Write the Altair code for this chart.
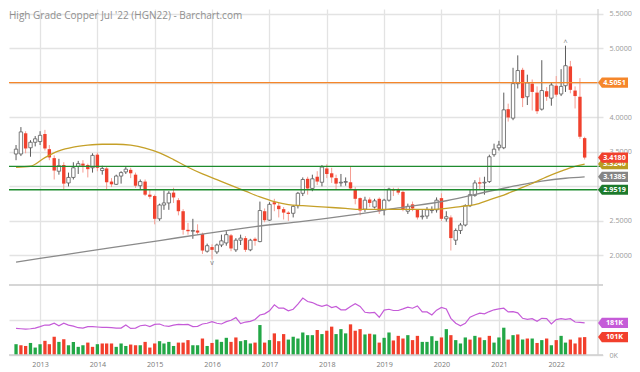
import altair as alt
import pandas as pd

title_text = "High Grade Copper Jul '22 (HGN22) - Barchart.com"

months = pd.date_range("2012-08-01", periods=120, freq="MS")

opens = [3.47, 3.47, 3.77, 3.56, 3.64, 3.65, 3.76, 3.54, 3.41, 3.22,
         3.31, 3.05, 3.13, 3.29, 3.33, 3.31, 3.27, 3.46, 3.23, 3.26,
         3.07, 3.03, 3.15, 3.21, 3.24, 3.17, 3.01, 3.07, 2.88, 2.86,
         2.53, 2.73, 2.76, 2.91, 2.80, 2.64, 2.37, 2.35, 2.36, 2.31,
         2.06, 2.12, 2.05, 2.15, 2.18, 2.29, 2.08, 2.22, 2.25, 2.08,
         2.24, 2.20, 2.64, 2.51, 2.77, 2.72, 2.67, 2.62, 2.61, 2.72,
         2.90, 3.11, 2.97, 3.14, 3.06, 3.26, 3.19, 3.12, 3.05, 3.06,
         3.06, 2.96, 2.83, 2.67, 2.81, 2.70, 2.82, 2.66, 2.80, 2.96,
         2.95, 2.92, 2.64, 2.74, 2.66, 2.56, 2.57, 2.65, 2.66, 2.83,
         2.53, 2.55, 2.22, 2.36, 2.44, 2.72, 2.87, 3.06, 3.05, 3.07,
         3.46, 3.56, 3.56, 4.12, 3.99, 4.49, 4.69, 4.30, 4.49, 4.36,
         4.12, 4.38, 4.28, 4.46, 4.34, 4.46, 4.74, 4.39, 4.30, 3.70]
highs = [3.60, 3.86, 3.80, 3.67, 3.73, 3.80, 3.82, 3.60, 3.45, 3.40,
         3.35, 3.20, 3.35, 3.37, 3.38, 3.33, 3.48, 3.49, 3.30, 3.28,
         3.12, 3.17, 3.22, 3.28, 3.27, 3.20, 3.10, 3.10, 2.95, 2.88,
         2.75, 2.94, 2.93, 2.98, 2.83, 2.67, 2.47, 2.53, 2.45, 2.33,
         2.17, 2.16, 2.17, 2.30, 2.35, 2.31, 2.25, 2.30, 2.28, 2.24,
         2.26, 2.78, 2.68, 2.77, 2.82, 2.76, 2.70, 2.64, 2.73, 2.92,
         3.13, 3.14, 3.17, 3.22, 3.31, 3.32, 3.27, 3.17, 3.18, 3.13,
         3.29, 2.99, 2.84, 2.85, 2.84, 2.82, 2.84, 2.82, 2.98, 2.98,
         2.98, 2.94, 2.75, 2.78, 2.67, 2.67, 2.70, 2.71, 2.84, 2.90,
         2.64, 2.58, 2.39, 2.47, 2.74, 2.95, 3.09, 3.13, 3.14, 3.46,
         3.62, 3.66, 4.36, 4.20, 4.72, 4.90, 4.72, 4.62, 4.55, 4.45,
         4.83, 4.44, 4.50, 4.60, 4.70, 5.04, 4.82, 4.45, 4.57, 3.72]
lows = [3.38, 3.44, 3.48, 3.43, 3.58, 3.60, 3.52, 3.38, 3.10, 3.17,
        2.96, 3.00, 3.10, 3.18, 3.20, 3.13, 3.20, 3.22, 3.17, 2.95,
        2.99, 3.02, 3.04, 3.18, 3.12, 2.98, 2.96, 2.86, 2.82, 2.45,
        2.50, 2.66, 2.66, 2.76, 2.58, 2.30, 2.30, 2.24, 2.30, 2.02,
        2.04, 1.94, 2.02, 2.12, 2.14, 2.06, 2.05, 2.15, 2.05, 2.06,
        2.14, 2.19, 2.48, 2.50, 2.64, 2.55, 2.52, 2.50, 2.55, 2.68,
        2.86, 2.88, 2.93, 3.02, 3.00, 3.12, 3.05, 2.96, 3.00, 3.01,
        2.95, 2.74, 2.58, 2.63, 2.70, 2.68, 2.60, 2.58, 2.78, 2.86,
        2.88, 2.64, 2.60, 2.64, 2.52, 2.52, 2.53, 2.61, 2.62, 2.50,
        2.49, 2.07, 2.15, 2.31, 2.42, 2.70, 2.85, 2.95, 2.88, 3.05,
        3.43, 3.52, 3.54, 3.94, 3.96, 4.42, 4.15, 4.18, 4.10, 4.05,
        4.10, 4.24, 4.17, 4.30, 4.31, 4.37, 4.35, 4.13, 3.69, 3.39]
closes = [3.54, 3.79, 3.55, 3.64, 3.69, 3.74, 3.55, 3.42, 3.23, 3.30,
          3.04, 3.13, 3.27, 3.33, 3.30, 3.25, 3.45, 3.27, 3.26, 3.06,
          3.03, 3.15, 3.20, 3.25, 3.19, 3.01, 3.07, 2.88, 2.85, 2.53,
          2.73, 2.76, 2.90, 2.84, 2.64, 2.37, 2.35, 2.36, 2.33, 2.07,
          2.14, 2.08, 2.15, 2.21, 2.30, 2.10, 2.22, 2.25, 2.08, 2.22,
          2.21, 2.65, 2.51, 2.74, 2.74, 2.67, 2.62, 2.60, 2.71, 2.90,
          3.10, 2.97, 3.11, 3.07, 3.28, 3.18, 3.13, 3.04, 3.06, 3.07,
          2.97, 2.82, 2.65, 2.80, 2.76, 2.79, 2.64, 2.80, 2.96, 2.94,
          2.91, 2.67, 2.71, 2.68, 2.55, 2.57, 2.66, 2.66, 2.80, 2.53,
          2.56, 2.25, 2.36, 2.44, 2.72, 2.88, 3.05, 3.04, 3.06, 3.43,
          3.54, 3.60, 4.11, 4.00, 4.49, 4.68, 4.28, 4.50, 4.37, 4.09,
          4.39, 4.30, 4.47, 4.33, 4.45, 4.75, 4.40, 4.31, 3.72, 3.418]

volume_k = [61, 55, 51, 68, 42, 61, 80, 61, 103, 74,
            89, 55, 74, 46, 55, 70, 46, 61, 65, 65,
            65, 46, 65, 51, 59, 55, 55, 74, 42, 65,
            78, 65, 74, 51, 70, 70, 84, 55, 55, 93,
            51, 68, 87, 74, 97, 74, 99, 78, 84, 65,
            70, 169, 70, 84, 122, 78, 118, 87, 103, 93,
            127, 112, 112, 141, 118, 137, 160, 118, 146, 122,
            173, 137, 146, 116, 120, 116, 70, 97, 127, 82,
            108, 93, 112, 84, 108, 74, 74, 106, 80, 99,
            146, 112, 84, 65, 99, 87, 108, 99, 84, 108,
            70, 99, 154, 87, 112, 116, 87, 93, 93, 68,
            84, 93, 55, 84, 108, 70, 87, 65, 99, 101]
vol_dir = ["up", "down", "down", "up", "up", "up", "down", "down", "down", "up",
           "down", "up", "up", "up", "up", "down", "down", "up", "down", "down",
           "down", "up", "up", "up", "down", "down", "up", "down", "down", "down",
           "up", "up", "up", "up", "down", "down", "down", "up", "up", "down",
           "up", "down", "up", "up", "up", "down", "down", "up", "up", "up",
           "down", "up", "down", "up", "down", "down", "down", "up", "up", "up",
           "up", "up", "up", "down", "up", "down", "down", "up", "up", "up",
           "down", "down", "down", "up", "down", "up", "down", "up", "up", "down",
           "down", "down", "up", "down", "down", "up", "up", "up", "up", "down",
           "up", "down", "up", "up", "up", "down", "up", "down", "up", "down",
           "up", "up", "up", "down", "up", "down", "up", "down", "up", "down",
           "up", "down", "up", "down", "up", "up", "down", "down", "down", "down"]
open_interest_k = [150, 148, 146, 148, 152, 160, 169, 169, 179, 165,
                   179, 169, 163, 154, 152, 160, 160, 158, 156, 156,
                   154, 152, 152, 169, 150, 152, 165, 169, 160, 173,
                   175, 165, 162, 169, 173, 171, 173, 160, 162, 175,
                   179, 188, 179, 175, 188, 196, 211, 177, 186, 190,
                   200, 226, 232, 249, 283, 264, 264, 249, 258, 287,
                   321, 302, 296, 283, 274, 283, 268, 274, 255, 255,
                   274, 289, 274, 241, 238, 241, 213, 253, 258, 251,
                   251, 260, 270, 264, 277, 243, 243, 226, 253, 268,
                   260, 207, 179, 165, 179, 213, 226, 236, 232, 245,
                   255, 260, 264, 243, 245, 238, 207, 201, 205, 190,
                   207, 205, 175, 200, 205, 201, 205, 186, 184, 181]

ma_slow_dates = ["2012-08-01", "2012-11-01", "2013-02-01", "2013-05-01", "2013-08-01",
                 "2013-11-01", "2014-02-01", "2014-05-01", "2014-08-01", "2014-11-01",
                 "2015-02-01", "2015-05-01", "2015-08-01", "2015-11-01", "2016-02-01",
                 "2016-05-01", "2016-08-01", "2016-11-01", "2017-02-01", "2017-05-01",
                 "2017-08-01", "2017-11-01", "2018-02-01", "2018-05-01", "2018-08-01",
                 "2018-11-01", "2019-02-01", "2019-05-01", "2019-08-01", "2019-11-01",
                 "2020-02-01", "2020-05-01", "2020-08-01", "2020-11-01", "2021-02-01",
                 "2021-05-01", "2021-08-01", "2021-11-01", "2022-02-01", "2022-05-01",
                 "2022-07-01"]
ma_slow_vals = [3.278, 3.292, 3.417, 3.514, 3.569, 3.597, 3.611, 3.611, 3.597, 3.556,
                3.486, 3.389, 3.278, 3.181, 3.097, 3.014, 2.931, 2.847, 2.778, 2.736,
                2.722, 2.708, 2.694, 2.681, 2.667, 2.667, 2.667, 2.667, 2.667, 2.667,
                2.681, 2.708, 2.736, 2.806, 2.875, 2.958, 3.042, 3.139, 3.222, 3.292,
                3.324]
ma_long_dates = ["2012-08-01", "2013-06-01", "2014-04-01", "2015-02-01", "2015-12-01",
                 "2016-10-01", "2017-08-01", "2018-06-01", "2019-04-01", "2020-02-01",
                 "2020-12-01", "2021-05-01", "2021-10-01", "2022-03-01", "2022-07-01"]
ma_long_vals = [1.903, 2.007, 2.111, 2.215, 2.319, 2.417, 2.493, 2.583, 2.688, 2.792,
                2.944, 3.014, 3.076, 3.118, 3.1385]

level_vals = [4.5051, 3.29, 2.9519]
level_cols = ["#f5862a", "#1e8b2e", "#1e8b2e"]

hi_marker = ("2022-03-01", 5.04)
lo_marker = ("2016-01-01", 1.94)

# ---------------- build ----------------
df = pd.DataFrame({"date": months, "o": opens, "h": highs, "l": lows, "c": closes,
                   "vol": volume_k, "vdir": vol_dir, "oi": open_interest_k})
ma1 = pd.DataFrame({"date": pd.to_datetime(ma_slow_dates), "v": ma_slow_vals})
ma2 = pd.DataFrame({"date": pd.to_datetime(ma_long_dates), "v": ma_long_vals})
lv = pd.DataFrame({"level": level_vals, "col": level_cols})

FONT = "Open Sans"
x_start = alt.DateTime(year=2012, month=7, date=19)
x_end = alt.DateTime(year=2022, month=9, date=24)
P_DOM = [0.555, 5.5725]
V_DOM = [0, 1952.4]
LBL = 7.2


def xscale():
    return alt.Scale(domain=[x_start, x_end])


def pscale():
    return alt.Scale(domain=P_DOM, nice=False, zero=False)


def vscale():
    return alt.Scale(domain=V_DOM, nice=False, zero=False)


def xaxis():
    return alt.Axis(tickCount=alt.TimeIntervalStep(interval="year", step=1),
                    format="%Y", labelFontSize=LBL, labelColor="#7a7a7a", labelFont=FONT,
                    ticks=False, domain=False, grid=True, gridColor="#e3e3e3", gridWidth=1.3,
                    labelPadding=5, title=None, labelFlush=False)


# labels that sit fully under a value tag (4.5, 3.0, 200K) are left blank, as in the original
price_axis = alt.Axis(orient="right", values=[2.0, 2.5, 3.0, 3.5, 4.0, 4.5, 5.0, 5.5],
                      labelExpr="(datum.value == 4.5 || datum.value == 3) ? '' : format(datum.value, '.4f')",
                      labelFontSize=LBL, labelColor="#9a9a9a", labelFont=FONT,
                      labelPadding=6, ticks=False, domain=False, grid=True,
                      gridColor="#e3e3e3", gridWidth=1.3, title=None)
vol_axis = alt.Axis(orient="right", values=[0, 200],
                    labelExpr="datum.value == 0 ? '0K' : ''",
                    labelFontSize=LBL, labelColor="#9a9a9a", labelFont=FONT,
                    labelPadding=6, ticks=False, domain=False, grid=True,
                    gridColor="#e3e3e3", gridWidth=1.3, title=None)


def X():
    return alt.X("date:T", scale=xscale(), axis=xaxis())


def XEND():
    return alt.XDatum(x_end, scale=xscale(), axis=xaxis())


base = alt.Chart(df)

wicks = base.transform_calculate(
    wc="datum.c >= datum.o ? '#5c5c5c' : '#f59d92'"
).mark_rule(strokeWidth=1).encode(
    x=X(),
    y=alt.Y("l:Q", scale=pscale(), axis=price_axis),
    y2="h:Q",
    color=alt.Color("wc:N", scale=None),
)
up_bodies = base.transform_filter("datum.c >= datum.o").mark_bar(
    size=3.4, fill="white", stroke="#5c5c5c", strokeWidth=0.8
).encode(x=X(), y=alt.Y("o:Q", scale=pscale(), axis=None), y2="c:Q")
down_bodies = base.transform_filter("datum.c < datum.o").mark_bar(
    size=3.4, color="#f0412d"
).encode(x=X(), y=alt.Y("o:Q", scale=pscale(), axis=None), y2="c:Q")

ma1_line = alt.Chart(ma1).mark_line(color="#c5a028", strokeWidth=1.3, interpolate="monotone").encode(
    x=X(), y=alt.Y("v:Q", scale=pscale(), axis=None))
ma2_line = alt.Chart(ma2).mark_line(color="#8a8a8a", strokeWidth=1.3, interpolate="monotone").encode(
    x=X(), y=alt.Y("v:Q", scale=pscale(), axis=None))
levels = alt.Chart(lv).mark_rule(strokeWidth=1.4).encode(
    y=alt.Y("level:Q", scale=pscale(), axis=None), color=alt.Color("col:N", scale=None))

hi_df = pd.DataFrame({"date": [pd.Timestamp(hi_marker[0])], "v": [hi_marker[1]], "t": ["^"]})
lo_df = pd.DataFrame({"date": [pd.Timestamp(lo_marker[0])], "v": [lo_marker[1]], "t": ["v"]})
hi_txt = alt.Chart(hi_df).mark_text(baseline="bottom", fontSize=7, color="#777777", font=FONT).encode(
    x=X(), y=alt.Y("v:Q", scale=pscale(), axis=None), text="t:N")
lo_txt = alt.Chart(lo_df).mark_text(baseline="top", fontSize=7, color="#777777", font=FONT).encode(
    x=X(), y=alt.Y("v:Q", scale=pscale(), axis=None), text="t:N")

dummy = pd.DataFrame({"a": [0]})
separator = alt.Chart(dummy).mark_rule(color="#c9c9c9", strokeWidth=1.5).encode(
    y=alt.YDatum(1.57, scale=pscale(), axis=None))
right_border = alt.Chart(dummy).mark_rule(color="#d0d0d0", strokeWidth=1.2).encode(x=XEND())

BOX = "M -1.07 0 L -0.8 -0.35 L 1.0 -0.35 L 1.0 0.35 L -0.8 0.35 Z"

price_tags = pd.DataFrame({
    "v": [ma_slow_vals[-1], ma_long_vals[-1], level_vals[2], level_vals[0], closes[-1]],
    "col": ["#b99c22", "#858585", "#1c7a2b", "#f5862a", "#f0412d"],
    "order": [0, 1, 1, 1, 2],
})
price_tags["t"] = price_tags["v"].map(lambda v: f"{v:.4f}")


def tag_layers(frame, scale_fn):
    box = alt.Chart(frame).mark_point(shape=BOX, size=841, filled=True, opacity=1,
                                      strokeWidth=0, xOffset=15.5).encode(
        x=XEND(),
        y=alt.Y("v:Q", scale=scale_fn(), axis=None),
        color=alt.Color("col:N", scale=None))
    txt = alt.Chart(frame).mark_text(dx=16.5, align="center", baseline="middle", fontSize=LBL,
                                     fontWeight="bold", color="white", font=FONT).encode(
        x=XEND(),
        y=alt.Y("v:Q", scale=scale_fn(), axis=None),
        text="t:N")
    return [box, txt]


tag_parts = []
for k in [0, 1, 2]:
    tag_parts += tag_layers(price_tags[price_tags["order"] == k].reset_index(drop=True), pscale)

vol_bars = base.mark_bar(size=3.3).encode(
    x=X(),
    y=alt.Y("vol:Q", scale=vscale(), axis=vol_axis),
    color=alt.Color("vdir:N", scale=alt.Scale(domain=["up", "down"], range=["#22a746", "#f23f2c"]),
                    legend=None))
oi_line = base.mark_line(color="#c55bd8", strokeWidth=1.2).encode(
    x=X(), y=alt.Y("oi:Q", scale=vscale(), axis=None))
bottom_line = alt.Chart(dummy).mark_rule(color="#cfcfcf", strokeWidth=1.3).encode(
    y=alt.YDatum(0, scale=vscale(), axis=None))
vol_tags = pd.DataFrame({"v": [open_interest_k[-1], volume_k[-1]],
                         "col": ["#c55bd8", "#f23f2c"]})
vol_tags["t"] = vol_tags["v"].map(lambda v: f"{v}K")

title_layer = alt.Chart(pd.DataFrame({"t": [title_text]})).mark_text(
    align="left", baseline="middle", fontSize=10, font=FONT, color="#8f8f8f"
).encode(text="t:N", x=alt.value(0), y=alt.value(6.5))

layers = [wicks, vol_bars, up_bodies, down_bodies, ma2_line, ma1_line, levels,
          hi_txt, lo_txt, separator, oi_line, bottom_line, right_border]
layers += tag_parts
layers += tag_layers(vol_tags, vscale)
layers += [title_layer]

chart = alt.layer(*layers).resolve_scale(
    y="independent"
).properties(
    width=624, height=364,
    autosize=alt.AutoSizeParams(type="fit", contains="padding"),
    padding={"left": 0, "top": 0, "right": 0, "bottom": 4},
    background="white",
).configure_view(stroke=None)

chart.save("out.html", embed_options={"renderer": "svg", "actions": False})
